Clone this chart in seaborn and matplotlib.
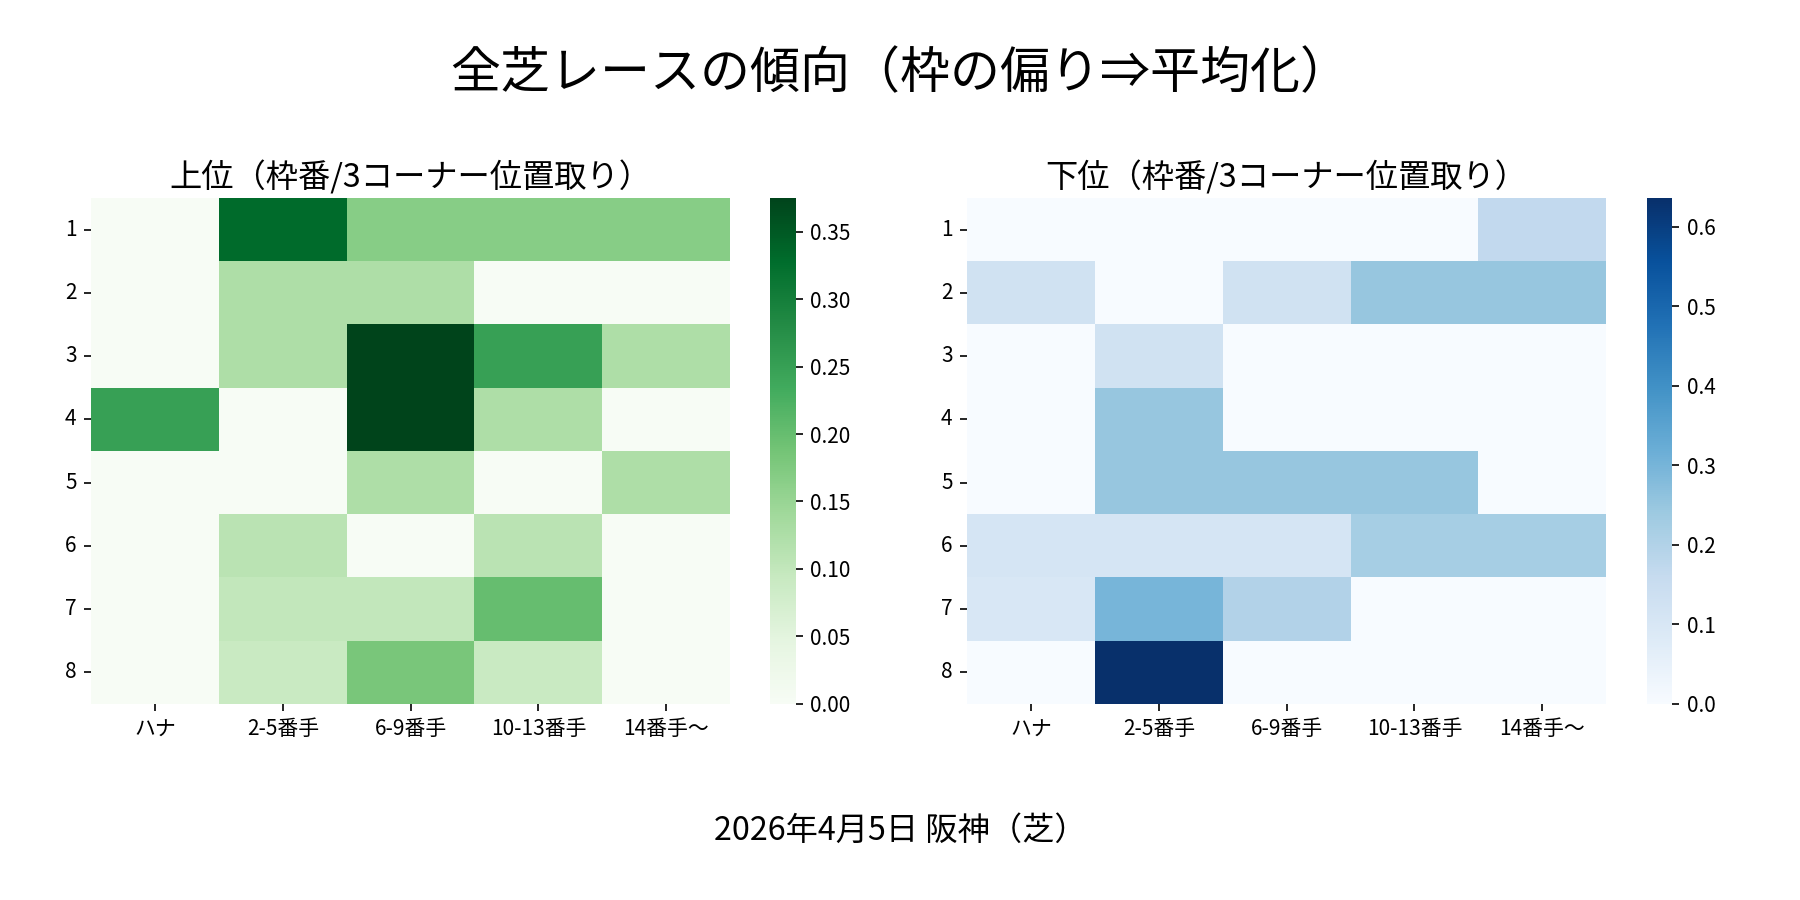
import numpy as np
import pandas as pd
import matplotlib
matplotlib.use("Agg")
from matplotlib import pyplot as plt
import seaborn as sns

plt.rcParams['font.family'] = ['Noto Sans CJK JP', 'DejaVu Sans']

# 3コーナー位置取り (columns) / 枠番 (rows)
positions = ["ハナ", "2-5番手", "6-9番手", "10-13番手", "14番手〜"]
frames = [1, 2, 3, 4, 5, 6, 7, 8]

# 上位 (share per cell)
top_r1 = [0.000, 0.330, 0.167, 0.167, 0.167]
top_r2 = [0.000, 0.125, 0.125, 0.000, 0.000]
top_r3 = [0.000, 0.125, 0.375, 0.250, 0.125]
top_r4 = [0.250, 0.000, 0.375, 0.125, 0.000]
top_r5 = [0.000, 0.000, 0.125, 0.000, 0.125]
top_r6 = [0.000, 0.111, 0.000, 0.111, 0.000]
top_r7 = [0.000, 0.100, 0.100, 0.200, 0.000]
top_r8 = [0.000, 0.091, 0.182, 0.091, 0.000]

# 下位
low_r1 = [0.000, 0.000, 0.000, 0.000, 0.167]
low_r2 = [0.125, 0.000, 0.125, 0.250, 0.250]
low_r3 = [0.000, 0.125, 0.000, 0.000, 0.000]
low_r4 = [0.000, 0.250, 0.000, 0.000, 0.000]
low_r5 = [0.000, 0.250, 0.250, 0.250, 0.000]
low_r6 = [0.111, 0.111, 0.111, 0.222, 0.222]
low_r7 = [0.100, 0.300, 0.200, 0.000, 0.000]
low_r8 = [0.000, 0.636, 0.000, 0.000, 0.000]

top_df = pd.DataFrame([top_r1, top_r2, top_r3, top_r4, top_r5, top_r6, top_r7, top_r8],
                      index=frames, columns=positions)
low_df = pd.DataFrame([low_r1, low_r2, low_r3, low_r4, low_r5, low_r6, low_r7, low_r8],
                      index=frames, columns=positions)

fig = plt.figure(figsize=(12, 6), dpi=150)
ax1 = fig.add_axes([0.0506, 0.218, 0.355, 0.562])
cax1 = fig.add_axes([0.428, 0.218, 0.014, 0.562])
ax2 = fig.add_axes([0.5373, 0.218, 0.355, 0.562])
cax2 = fig.add_axes([0.915, 0.218, 0.014, 0.562])

sns.heatmap(top_df, cmap="Greens", ax=ax1, cbar_ax=cax1)
ax1.set_title("上位（枠番/3コーナー位置取り）", fontsize=15.5, pad=5)
sns.heatmap(low_df, cmap="Blues", ax=ax2, cbar_ax=cax2)
ax2.set_title("下位（枠番/3コーナー位置取り）", fontsize=15.5, pad=5)

for ax in (ax1, ax2):
    ax.set_xlabel("")
    ax.set_ylabel("")
    ax.tick_params(axis="y", rotation=0)
    ax.tick_params(axis="x", rotation=0)

fig.suptitle("全芝レースの傾向（枠の偏り⇒平均化）", fontsize=24, y=0.917, va="center")
fig.text(0.5, 0.077, "2026年4月5日 阪神（芝）", ha="center", va="center", fontsize=15.5)

plt.savefig("out.png")
